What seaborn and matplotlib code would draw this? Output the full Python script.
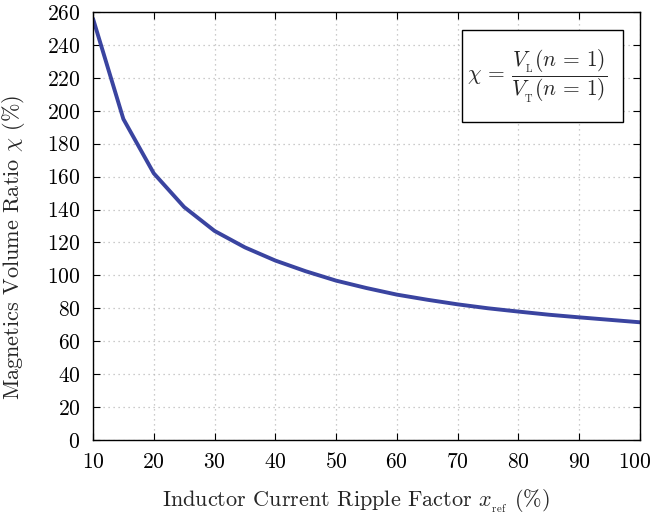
import matplotlib
matplotlib.use("Agg")
import matplotlib.pyplot as plt
import matplotlib.patches as mpatches
import matplotlib.transforms as mtransforms
import seaborn as sns
import pandas as pd

ripple = [10, 15, 20, 25, 30, 35, 40, 45, 50, 55, 60, 65, 70, 75, 80, 85, 90, 95, 100]
ratio = [256, 195, 162, 141.5, 127, 117, 109, 102.5, 96.8, 92.3, 88.3, 85.2, 82.4, 80, 78, 76.1, 74.5, 73, 71.5]
xticks = [10, 20, 30, 40, 50, 60, 70, 80, 90, 100]
yticks = list(range(0, 261, 20))

sns.set_theme(style="white")
plt.rcParams['font.family'] = 'serif'
plt.rcParams['font.serif'] = ['cmr10', 'DejaVu Serif']
plt.rcParams['mathtext.fontset'] = 'cm'
plt.rcParams['axes.formatter.use_mathtext'] = True

df = pd.DataFrame({"x": ripple, "y": ratio})
fig = plt.figure(figsize=(6.52, 5.21), dpi=100)
ax = fig.add_axes([0.1426, 0.1555, 0.839, 0.8215])
sns.lineplot(data=df, x="x", y="y", ax=ax, color="#3A44A0", linewidth=2.8)

ax.set_xlim(10, 100)
ax.set_ylim(0, 260)
ax.set_xticks(xticks)
ax.set_yticks(yticks)
ax.grid(True, linestyle=(0, (1, 3)), color="#bbbbbb", linewidth=0.9)
for s in ax.spines.values():
    s.set_color("black")
    s.set_linewidth(1.0)
ax.tick_params(direction="in", length=5, width=0.8, top=True, right=True,
               bottom=True, left=True, labelsize=15.5, colors="black", pad=9)
ax.set_xlabel(r"Inductor Current Ripple Factor $x_{_{\mathrm{ref}}}$ (%)", fontsize=16)
ax.set_ylabel(r"Magnetics Volume Ratio $\chi$ (%)", fontsize=16)
ax.xaxis.set_label_coords(0.481, -0.112)
ax.yaxis.set_label_coords(-0.121, 0.449)

# nudge the last x tick label slightly left so it stays inside the figure
last = ax.get_xticklabels()[-1]
last.set_transform(last.get_transform() + mtransforms.ScaledTranslation(-5 / 100, 0, fig.dpi_scale_trans))

box = mpatches.Rectangle((0.6746, 0.743), 0.2944, 0.215, transform=ax.transAxes,
                         facecolor="white", edgecolor="black", linewidth=1.0, zorder=5)
ax.add_patch(box)
ax.text(0.684, 0.849, r"$\chi\,=\,\dfrac{V_{_\mathrm{L}}(n\,=\,1)}{V_{_\mathrm{T}}(n\,=\,1)}$",
        transform=ax.transAxes, ha="left", va="center", fontsize=15.5, zorder=6)

fig.savefig("out.png", dpi=100)
